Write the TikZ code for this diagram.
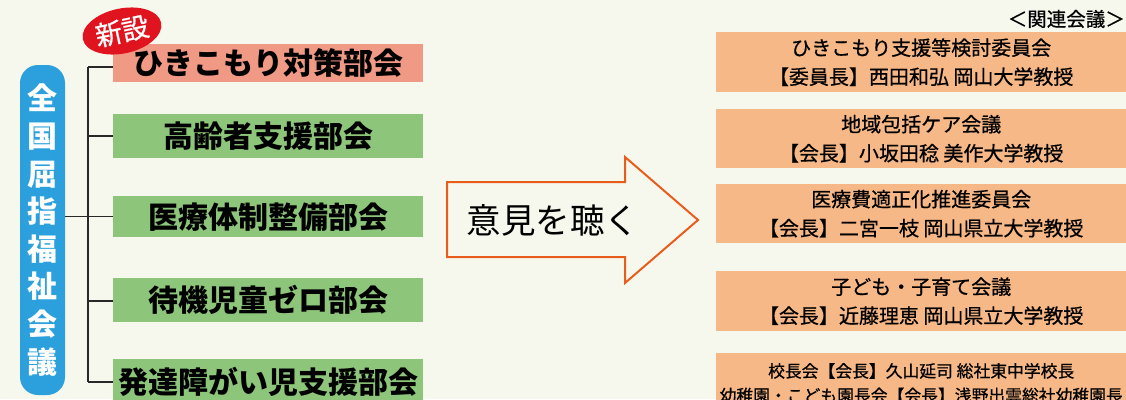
\documentclass[tikz,border=0pt]{standalone}
\usepackage{fontspec}
\newfontfamily\cjk{Noto Sans CJK JP}
\newfontfamily\cjkm[FakeBold=0.7]{Noto Sans CJK JP}
\usetikzlibrary{shapes.geometric}
\definecolor{bg}{RGB}{246,248,238}
\definecolor{cblue}{RGB}{44,160,220}
\definecolor{csalmon}{RGB}{240,154,134}
\definecolor{cgreen}{RGB}{141,198,122}
\definecolor{corange}{RGB}{246,184,134}
\definecolor{cred}{RGB}{224,20,30}
\definecolor{carrow}{RGB}{232,92,28}
\definecolor{cline}{RGB}{40,40,40}
\tikzset{
  bukai/.style={inner sep=0pt, minimum width=310pt, anchor=north west,
    font=\cjk\bfseries\fontsize{30}{30}\selectfont, text=black},
  kaigi/.style={inner sep=0pt, minimum width=410pt, anchor=north west, fill=corange,
    align=center, font=\cjkm\fontsize{20}{29}\selectfont, text=black},
  tree/.style={draw=cline, line width=1.5pt},
}
\begin{document}
\begin{tikzpicture}[x=1pt,y=-1pt]
\useasboundingbox (0,0) rectangle (1126,399);
\clip (0,0) rectangle (1126,399);
\fill[bg] (0,0) rectangle (1126,399);
% council
\node[fill=cblue, rounded corners=18pt, minimum width=45pt, minimum height=330pt, inner sep=0pt,
  text=white, align=center, font=\cjk\bfseries\fontsize{30}{37.6}\selectfont]
  (council) at (42.5,230) {全\\国\\屈\\指\\福\\祉\\会\\議};
% committees
\node[bukai, fill=csalmon, minimum height=38pt] (b1) at (113,44) {ひきこもり対策部会};
\node[bukai, fill=cgreen, minimum height=44pt] (b2) at (113,114) {高齢者支援部会};
\node[bukai, fill=cgreen, minimum height=41pt] (b3) at (113,196) {医療体制整備部会};
\node[bukai, fill=cgreen, minimum height=44pt] (b4) at (113,278) {待機児童ゼロ部会};
\node[bukai, fill=cgreen, minimum height=46pt] (b5) at (113,359) {発達障がい児支援部会};
% new badge
\node[ellipse, fill=cred, minimum width=80pt, minimum height=45pt, inner sep=0pt, rotate=12,
  text=white, font=\cjkm\fontsize{27}{27}\selectfont] (new) at (122,31) {新設};
% tree
\coordinate (t1) at (88,67);
\coordinate (t5) at (88,382);
\draw[tree] (t1) -- (t5);
\draw[tree] (t1) -- (t1 -| b1.west);
\draw[tree] (88,136) -- (b2.west |- 0,136);
\draw[tree] (council.east |- b3.west) -- (b3.west);
\draw[tree] (88,301) -- (b4.west |- 0,301);
\draw[tree] (t5) -- (t5 -| b5.west);
% arrow
\draw[draw=carrow, line width=2pt, fill=bg, line join=miter]
  (447,182) -- (625,182) -- (625,157) -- (698,220) -- (625,283) -- (625,257) -- (447,257) -- cycle;
\node[font=\cjk\fontsize{34.5}{34.5}\selectfont, text=black, inner sep=0pt] (listen) at (553,220) {意見を聴く};
% related
\node[anchor=east, inner sep=0pt, font=\cjkm\fontsize{19.5}{20}\selectfont] (rel) at (1125,19) {＜関連会議＞};
\node[kaigi, minimum height=60pt] (k1) at (716,32) {ひきこもり支援等検討委員会\\【委員長】西田和弘 岡山大学教授};
\node[kaigi, minimum height=59pt] (k2) at (716,109) {地域包括ケア会議\\【会長】小坂田稔 美作大学教授};
\node[kaigi, minimum height=59pt] (k3) at (716,184) {医療費適正化推進委員会\\【会長】二宮一枝 岡山県立大学教授};
\node[kaigi, minimum height=60pt] (k4) at (716,271) {子ども・子育て会議\\【会長】近藤理恵 岡山県立大学教授};
\node[kaigi, minimum height=60pt, font=\cjkm\fontsize{16.8}{24.5}\selectfont] (k5) at (716,353)
  {校長会【会長】久山延司 総社東中学校長\\幼稚園・こども園長会【会長】浅野出雲総社幼稚園長};
\end{tikzpicture}
\end{document}
